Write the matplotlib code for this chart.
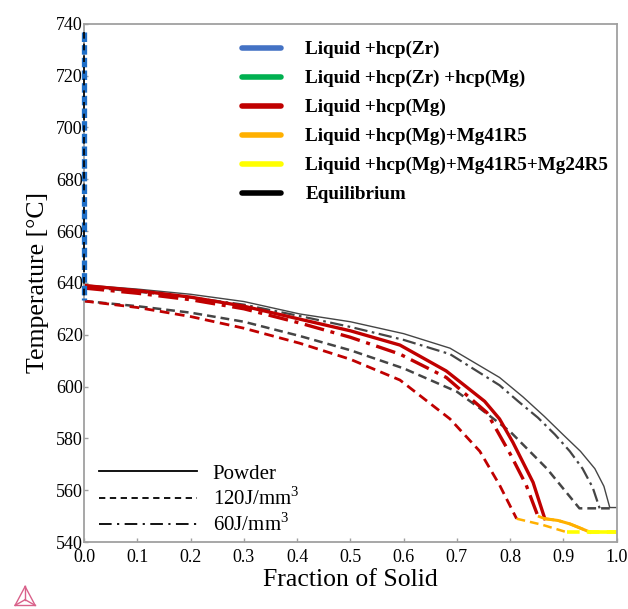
import matplotlib
matplotlib.use("Agg")
import matplotlib.pyplot as plt
from matplotlib.lines import Line2D

plt.rcParams['font.family'] = ['Liberation Serif', 'DejaVu Serif']
plt.rcParams['mathtext.fontset'] = 'custom'
plt.rcParams['mathtext.rm'] = 'Liberation Serif'

# ---- solidification paths: fraction of solid vs temperature (°C) ----
# Liquid + hcp(Zr) segment at fs = 0
zr_fs = [0.0, 0.0]
zr_T = [737.0, 633.5]

# Equilibrium paths
eq_powder_fs = [0.0, 0.1, 0.2, 0.3, 0.405, 0.5, 0.6, 0.687, 0.78, 0.824, 0.864, 0.899, 0.932, 0.959, 0.976, 0.987, 1.0]
eq_powder_T = [639.2, 637.6, 635.6, 632.8, 628.0, 625.0, 620.4, 614.8, 603.5, 596.0, 588.5, 581.5, 575.0, 568.3, 561.5, 553.3, 553.3]

eq_120_fs = [0.0, 0.1, 0.2, 0.3, 0.405, 0.5, 0.6, 0.7, 0.743, 0.8, 0.869, 0.93, 0.987]
eq_120_T = [633.0, 631.0, 628.5, 625.0, 619.5, 614.0, 607.0, 598.0, 591.6, 582.6, 568.3, 553.0, 553.0]

eq_60_fs = [0.0, 0.1, 0.2, 0.3, 0.405, 0.5, 0.6, 0.687, 0.78, 0.815, 0.852, 0.884, 0.912, 0.936, 0.955, 0.968]
eq_60_T = [638.5, 636.6, 634.4, 631.6, 627.2, 623.0, 618.0, 612.5, 600.5, 594.3, 588.0, 581.5, 575.0, 568.3, 561.0, 553.0]

# Liquid + hcp(Mg) (Scheil)
mg_powder_fs = [0.0, 0.1, 0.2, 0.3, 0.405, 0.5, 0.593, 0.68, 0.752, 0.78, 0.805, 0.843, 0.865]
mg_powder_T = [639.0, 637.0, 634.5, 631.0, 626.0, 621.5, 616.0, 606.0, 594.3, 587.5, 578.5, 563.0, 549.0]

mg_120_fs = [0.0, 0.1, 0.2, 0.3, 0.405, 0.5, 0.593, 0.687, 0.743, 0.78, 0.812]
mg_120_T = [633.0, 630.5, 627.0, 622.5, 616.7, 610.5, 602.5, 587.5, 575.0, 562.0, 549.0]

mg_60_fs = [0.0, 0.1, 0.2, 0.3, 0.405, 0.5, 0.593, 0.68, 0.756, 0.8, 0.83, 0.852]
mg_60_T = [638.0, 636.0, 633.5, 630.0, 624.5, 619.0, 612.5, 603.5, 590.0, 574.0, 562.0, 550.0]

# Liquid + hcp(Mg) + Mg41R5
r5_powder_fs = [0.865, 0.89, 0.912, 0.93, 0.95]
r5_powder_T = [549.0, 548.3, 547.0, 545.5, 543.8]
r5_120_fs = [0.812, 0.861, 0.906]
r5_120_T = [549.0, 546.6, 543.8]
r5_60_fs = [0.852, 0.865, 0.89, 0.912, 0.93, 0.95]
r5_60_T = [550.0, 549.0, 548.3, 547.0, 545.5, 543.8]

# Liquid + hcp(Mg) + Mg41R5 + Mg24R5
r24_powder_fs = [0.95, 1.0]
r24_powder_T = [543.8, 543.8]
r24_120_fs = [0.906, 1.0]
r24_120_T = [543.8, 543.8]

phase_labels = ['Liquid +hcp(Zr)', 'Liquid +hcp(Zr) +hcp(Mg)', 'Liquid +hcp(Mg)',
                'Liquid +hcp(Mg)+Mg41R5', 'Liquid +hcp(Mg)+Mg41R5+Mg24R5', 'Equilibrium']
phase_colors = ['#4472C4', '#00B050', '#C00000', '#FFB000', '#FFFF00', '#000000']
process_labels = ['Powder', '120J/mm$^3$', '60J/mm$^3$']

BLUE, GREEN, RED, ORANGE, YELLOW, BLACK = phase_colors
GREY = '#454545'
DASH = (0, (3.5, 2.0))
DASHDOT = (0, (6.0, 2.0, 1.2, 2.0))

fig = plt.figure(figsize=(6.28, 6.09), dpi=100)
ax = fig.add_axes([0.134, 0.110, 0.848, 0.851])

# Equilibrium curves
ax.plot(eq_powder_fs, eq_powder_T, color=GREY, lw=1.0, ls='-')
ax.plot(eq_120_fs, eq_120_T, color=GREY, lw=1.8, ls=DASH)
ax.plot(eq_60_fs, eq_60_T, color=GREY, lw=1.6, ls=DASHDOT)

# Scheil curves
ax.plot(mg_powder_fs, mg_powder_T, color=RED, lw=2.4, ls='-')
ax.plot(mg_120_fs, mg_120_T, color=RED, lw=2.0, ls=DASH)
ax.plot(mg_60_fs, mg_60_T, color=RED, lw=2.4, ls=DASHDOT)

ax.plot(r5_60_fs, r5_60_T, color=ORANGE, lw=2.0, ls=DASHDOT)
ax.plot(r5_powder_fs, r5_powder_T, color=ORANGE, lw=2.2, ls='-')
ax.plot(r5_120_fs, r5_120_T, color=ORANGE, lw=1.8, ls=DASH)

ax.plot(r24_120_fs, r24_120_T, color=YELLOW, lw=2.6, ls=DASH)
ax.plot(r24_powder_fs, r24_powder_T, color=YELLOW, lw=2.6, ls='-')

# Liquid + hcp(Zr) at zero fraction solid
ax.plot(zr_fs, zr_T, color='#1F6FC8', lw=3.8, ls=(0, (1.8, 0.6)), solid_capstyle='butt',
        zorder=5, clip_on=False)
ax.plot(zr_fs, zr_T, color=BLACK, lw=1.2, ls=(0, (4, 3)), zorder=6, clip_on=False)

ax.set_xlim(0.0, 1.0)
ax.set_ylim(540, 740)
ax.set_xticks([i / 10 for i in range(11)])
ax.set_yticks(list(range(540, 741, 20)))
ax.set_xticklabels([f'{i / 10:.1f}' for i in range(11)])
ax.tick_params(axis='both', labelsize=13, length=3, width=1, direction='in',
               color='#a0a0a0')
ax.tick_params(axis='x', pad=5)
ax.tick_params(axis='y', pad=1)
for s in ax.spines.values():
    s.set_color('#a0a0a0')
    s.set_linewidth(1.3)

ax.set_xlabel('Fraction of Solid', fontsize=18.5, labelpad=2)
ax.set_ylabel('Temperature [°C]', fontsize=18.5, labelpad=5)

# Phase legend
phase_handles = [Line2D([0], [0], color=c, lw=4, solid_capstyle='round') for c in phase_colors]
leg1 = ax.legend(phase_handles, phase_labels, loc='upper left', bbox_to_anchor=(0.264, 1.0),
                 frameon=False, prop={'weight': 'bold', 'size': 13.8},
                 handlelength=2.05, handletextpad=1.25, labelspacing=0.6)
ax.add_artist(leg1)

# Process legend
proc_handles = [Line2D([0], [0], color=BLACK, lw=1.3, ls='-'),
                Line2D([0], [0], color=BLACK, lw=1.3, ls=(0, (3.5, 2.5))),
                Line2D([0], [0], color=BLACK, lw=1.3, ls=(0, (7, 3, 1.2, 3)))]
ax.legend(proc_handles, process_labels, loc='lower left', bbox_to_anchor=(-0.007, -0.025),
          frameon=False, prop={'size': 15}, handlelength=4.7, handletextpad=0.75,
          labelspacing=0.18)

# Small triangular logo in the lower-left corner
lc = '#d9618a'
cx, cy, w, h = 0.040, 0.006, 0.032, 0.031
apex = (cx, cy + h)
bl = (cx - w / 2, cy)
br = (cx + w / 2, cy)
mid = (cx, cy + h * 0.3)
segs = [(apex, bl), (bl, br), (br, apex), (apex, mid), (bl, mid), (br, mid)]
for (x0, y0), (x1, y1) in segs:
    fig.add_artist(Line2D([x0, x1], [y0, y1], color=lc, lw=1.0, transform=fig.transFigure))

fig.savefig('out.png', dpi=100)
